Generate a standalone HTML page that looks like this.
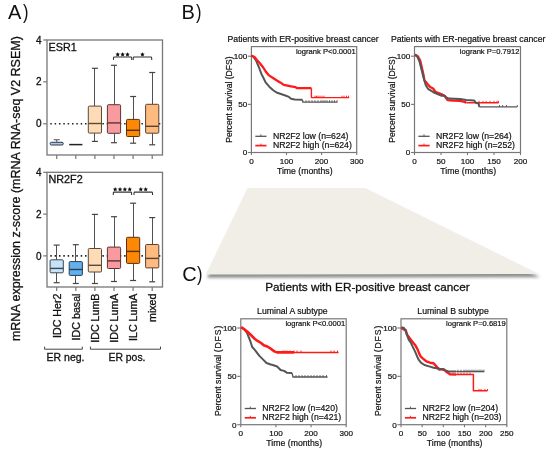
<!DOCTYPE html>
<html><head><meta charset="utf-8"><title>Figure</title>
<style>
html,body{margin:0;padding:0;background:#fff;}
body{width:550px;height:453px;overflow:hidden;}
svg{display:block;font-family:"Liberation Sans", sans-serif;will-change:transform;}
text.b{stroke:#111;stroke-width:0.3px;}
text.m{stroke:#111;stroke-width:0.2px;}
</style></head><body>
<svg width="550" height="453" viewBox="0 0 550 453">
<rect width="550" height="453" fill="#fff"/>
<text class="n" x="8" y="18.7" font-size="20" text-anchor="start" fill="#111" >A</text>
<text class="n" transform="translate(23.0,18.7) scale(0.82,1)" font-size="20" fill="#111">)</text>
<text class="b" transform="translate(19.8,188.6) rotate(-90)" font-size="12.5" text-anchor="middle" fill="#111">mRNA expression z-score (mRNA RNA-seq V2 RSEM)</text>
<rect x="47.0" y="40.0" width="115.5" height="115.0" fill="none" stroke="#777777" stroke-width="1.3"/>
<line x1="43.2" y1="40.0" x2="47.0" y2="40.0" stroke="#777777" stroke-width="1.2" />
<text class="b" x="41.6" y="43.6" font-size="10" text-anchor="end" fill="#111" >4</text>
<line x1="43.2" y1="81.8" x2="47.0" y2="81.8" stroke="#777777" stroke-width="1.2" />
<text class="b" x="41.6" y="85.39999999999999" font-size="10" text-anchor="end" fill="#111" >2</text>
<line x1="43.2" y1="123.8" x2="47.0" y2="123.8" stroke="#777777" stroke-width="1.2" />
<text class="b" x="41.6" y="127.39999999999999" font-size="10" text-anchor="end" fill="#111" >0</text>
<line x1="56.7" y1="155.0" x2="56.7" y2="159.0" stroke="#777777" stroke-width="1.2" />
<line x1="75.80000000000001" y1="155.0" x2="75.80000000000001" y2="159.0" stroke="#777777" stroke-width="1.2" />
<line x1="94.9" y1="155.0" x2="94.9" y2="159.0" stroke="#777777" stroke-width="1.2" />
<line x1="114.0" y1="155.0" x2="114.0" y2="159.0" stroke="#777777" stroke-width="1.2" />
<line x1="133.10000000000002" y1="155.0" x2="133.10000000000002" y2="159.0" stroke="#777777" stroke-width="1.2" />
<line x1="152.2" y1="155.0" x2="152.2" y2="159.0" stroke="#777777" stroke-width="1.2" />
<line x1="50.3" y1="123.8" x2="161.5" y2="123.8" stroke="#222" stroke-width="1.6" stroke-dasharray="1.5 2.84"/>
<text class="b" x="48.5" y="50.6" font-size="10.8" text-anchor="start" fill="#111" >ESR1</text>
<line x1="56.7" y1="139.7" x2="56.7" y2="142.3" stroke="#6a6a6a" stroke-width="1.1" />
<line x1="53.7" y1="139.7" x2="59.7" y2="139.7" stroke="#6a6a6a" stroke-width="1.2" />
<rect x="50.10" y="142.3" width="13.2" height="2.7" rx="1.3" fill="#a9cbea" stroke="#2e3a48" stroke-width="1"/>
<line x1="69.20000000000002" y1="144.6" x2="82.4" y2="144.6" stroke="#222" stroke-width="1.5" />
<line x1="94.5" y1="68.3" x2="94.5" y2="106.1" stroke="#505050" stroke-width="1.0" />
<line x1="94.5" y1="133.1" x2="94.5" y2="141.4" stroke="#505050" stroke-width="1.0" />
<line x1="91.9" y1="68.3" x2="97.9" y2="68.3" stroke="#444" stroke-width="1.2" />
<line x1="91.9" y1="141.4" x2="97.9" y2="141.4" stroke="#444" stroke-width="1.2" />
<rect x="88.30" y="106.1" width="13.2" height="27.00" rx="1" fill="#fddbb6" stroke="#5a4a3a" stroke-width="1"/>
<line x1="88.30000000000001" y1="123.5" x2="101.5" y2="123.5" stroke="#5a4a3a" stroke-width="1.4" />
<line x1="114.5" y1="65.3" x2="114.5" y2="104.7" stroke="#505050" stroke-width="1.0" />
<line x1="114.5" y1="133.3" x2="114.5" y2="142.7" stroke="#505050" stroke-width="1.0" />
<line x1="111.0" y1="65.3" x2="117.0" y2="65.3" stroke="#444" stroke-width="1.2" />
<line x1="111.0" y1="142.7" x2="117.0" y2="142.7" stroke="#444" stroke-width="1.2" />
<rect x="107.40" y="104.7" width="13.2" height="28.60" rx="1" fill="#f99b9e" stroke="#5a3434" stroke-width="1"/>
<line x1="107.4" y1="122.9" x2="120.6" y2="122.9" stroke="#5a3434" stroke-width="1.4" />
<line x1="133.5" y1="96.5" x2="133.5" y2="119.4" stroke="#505050" stroke-width="1.0" />
<line x1="133.5" y1="136.5" x2="133.5" y2="143.2" stroke="#505050" stroke-width="1.0" />
<line x1="130.10000000000002" y1="96.5" x2="136.10000000000002" y2="96.5" stroke="#444" stroke-width="1.2" />
<line x1="130.10000000000002" y1="143.2" x2="136.10000000000002" y2="143.2" stroke="#444" stroke-width="1.2" />
<rect x="126.50" y="119.4" width="13.2" height="17.10" rx="1" fill="#fc8805" stroke="#5a3010" stroke-width="1"/>
<line x1="126.50000000000003" y1="130.3" x2="139.70000000000002" y2="130.3" stroke="#5a3010" stroke-width="1.4" />
<line x1="152.5" y1="72.5" x2="152.5" y2="104.3" stroke="#505050" stroke-width="1.0" />
<line x1="152.5" y1="133.2" x2="152.5" y2="144.8" stroke="#505050" stroke-width="1.0" />
<line x1="149.2" y1="72.5" x2="155.2" y2="72.5" stroke="#444" stroke-width="1.2" />
<line x1="149.2" y1="144.8" x2="155.2" y2="144.8" stroke="#444" stroke-width="1.2" />
<rect x="145.60" y="104.3" width="13.2" height="28.90" rx="1" fill="#fdbb80" stroke="#5a4030" stroke-width="1"/>
<line x1="145.6" y1="126.3" x2="158.79999999999998" y2="126.3" stroke="#5a4030" stroke-width="1.4" />
<path d="M113.5,59.9 L113.5,57.9 Q113.5,57.0 114.4,57.0 L130.79999999999998,57.0 Q131.7,57.0 131.7,57.9 L131.7,59.9" fill="none" stroke="#333" stroke-width="1.05"/>
<polygon points="117.70,52.15 118.39,53.55 119.93,53.77 118.82,54.86 119.08,56.40 117.70,55.67 116.32,56.40 116.58,54.86 115.47,53.77 117.01,53.55" fill="#111"/>
<polygon points="122.60,52.15 123.29,53.55 124.83,53.77 123.72,54.86 123.98,56.40 122.60,55.67 121.22,56.40 121.48,54.86 120.37,53.77 121.91,53.55" fill="#111"/>
<polygon points="127.50,52.15 128.19,53.55 129.73,53.77 128.62,54.86 128.88,56.40 127.50,55.67 126.12,56.40 126.38,54.86 125.27,53.77 126.81,53.55" fill="#111"/>
<path d="M133.2,59.9 L133.2,57.9 Q133.2,57.0 134.1,57.0 L150.79999999999998,57.0 Q151.7,57.0 151.7,57.9 L151.7,59.9" fill="none" stroke="#333" stroke-width="1.05"/>
<polygon points="142.45,52.15 143.14,53.55 144.68,53.77 143.57,54.86 143.83,56.40 142.45,55.67 141.07,56.40 141.33,54.86 140.22,53.77 141.76,53.55" fill="#111"/>
<rect x="47.0" y="172.3" width="115.5" height="114.69999999999999" fill="none" stroke="#777777" stroke-width="1.3"/>
<line x1="43.2" y1="172.3" x2="47.0" y2="172.3" stroke="#777777" stroke-width="1.2" />
<text class="b" x="41.6" y="175.9" font-size="10" text-anchor="end" fill="#111" >4</text>
<line x1="43.2" y1="214.1" x2="47.0" y2="214.1" stroke="#777777" stroke-width="1.2" />
<text class="b" x="41.6" y="217.7" font-size="10" text-anchor="end" fill="#111" >2</text>
<line x1="43.2" y1="255.9" x2="47.0" y2="255.9" stroke="#777777" stroke-width="1.2" />
<text class="b" x="41.6" y="259.5" font-size="10" text-anchor="end" fill="#111" >0</text>
<line x1="56.7" y1="287.0" x2="56.7" y2="291.0" stroke="#777777" stroke-width="1.2" />
<line x1="75.80000000000001" y1="287.0" x2="75.80000000000001" y2="291.0" stroke="#777777" stroke-width="1.2" />
<line x1="94.9" y1="287.0" x2="94.9" y2="291.0" stroke="#777777" stroke-width="1.2" />
<line x1="114.0" y1="287.0" x2="114.0" y2="291.0" stroke="#777777" stroke-width="1.2" />
<line x1="133.10000000000002" y1="287.0" x2="133.10000000000002" y2="291.0" stroke="#777777" stroke-width="1.2" />
<line x1="152.2" y1="287.0" x2="152.2" y2="291.0" stroke="#777777" stroke-width="1.2" />
<line x1="50.3" y1="255.9" x2="161.5" y2="255.9" stroke="#222" stroke-width="1.6" stroke-dasharray="1.5 2.84"/>
<text class="b" x="48.5" y="182.5" font-size="10.8" text-anchor="start" fill="#111" >NR2F2</text>
<line x1="56.5" y1="245.1" x2="56.5" y2="259.8" stroke="#505050" stroke-width="1.0" />
<line x1="56.5" y1="272.8" x2="56.5" y2="282.7" stroke="#505050" stroke-width="1.0" />
<line x1="53.7" y1="245.1" x2="59.7" y2="245.1" stroke="#444" stroke-width="1.2" />
<line x1="53.7" y1="282.7" x2="59.7" y2="282.7" stroke="#444" stroke-width="1.2" />
<rect x="50.10" y="259.8" width="13.2" height="13.00" rx="1" fill="#c7e3f8" stroke="#3c4650" stroke-width="1"/>
<line x1="50.1" y1="268.4" x2="63.300000000000004" y2="268.4" stroke="#3c4650" stroke-width="1.4" />
<line x1="75.5" y1="244.7" x2="75.5" y2="261.6" stroke="#505050" stroke-width="1.0" />
<line x1="75.5" y1="275.4" x2="75.5" y2="283.5" stroke="#505050" stroke-width="1.0" />
<line x1="72.80000000000001" y1="244.7" x2="78.80000000000001" y2="244.7" stroke="#444" stroke-width="1.2" />
<line x1="72.80000000000001" y1="283.5" x2="78.80000000000001" y2="283.5" stroke="#444" stroke-width="1.2" />
<rect x="69.20" y="261.6" width="13.2" height="13.80" rx="1" fill="#62b0ee" stroke="#2d3e50" stroke-width="1"/>
<line x1="69.20000000000002" y1="269.5" x2="82.4" y2="269.5" stroke="#2d3e50" stroke-width="1.4" />
<line x1="94.5" y1="214.4" x2="94.5" y2="248.5" stroke="#505050" stroke-width="1.0" />
<line x1="94.5" y1="272.0" x2="94.5" y2="283.5" stroke="#505050" stroke-width="1.0" />
<line x1="91.9" y1="214.4" x2="97.9" y2="214.4" stroke="#444" stroke-width="1.2" />
<line x1="91.9" y1="283.5" x2="97.9" y2="283.5" stroke="#444" stroke-width="1.2" />
<rect x="88.30" y="248.5" width="13.2" height="23.50" rx="1" fill="#fddbb6" stroke="#5a4a3a" stroke-width="1"/>
<line x1="88.30000000000001" y1="265.3" x2="101.5" y2="265.3" stroke="#5a4a3a" stroke-width="1.4" />
<line x1="114.5" y1="216.7" x2="114.5" y2="247.1" stroke="#505050" stroke-width="1.0" />
<line x1="114.5" y1="268.5" x2="114.5" y2="281.5" stroke="#505050" stroke-width="1.0" />
<line x1="111.0" y1="216.7" x2="117.0" y2="216.7" stroke="#444" stroke-width="1.2" />
<line x1="111.0" y1="281.5" x2="117.0" y2="281.5" stroke="#444" stroke-width="1.2" />
<rect x="107.40" y="247.1" width="13.2" height="21.40" rx="1" fill="#f99b9e" stroke="#5a3434" stroke-width="1"/>
<line x1="107.4" y1="260.9" x2="120.6" y2="260.9" stroke="#5a3434" stroke-width="1.4" />
<line x1="133.5" y1="203.2" x2="133.5" y2="237.3" stroke="#505050" stroke-width="1.0" />
<line x1="133.5" y1="263.4" x2="133.5" y2="280.5" stroke="#505050" stroke-width="1.0" />
<line x1="130.10000000000002" y1="203.2" x2="136.10000000000002" y2="203.2" stroke="#444" stroke-width="1.2" />
<line x1="130.10000000000002" y1="280.5" x2="136.10000000000002" y2="280.5" stroke="#444" stroke-width="1.2" />
<rect x="126.50" y="237.3" width="13.2" height="26.10" rx="1" fill="#fc8805" stroke="#5a3010" stroke-width="1"/>
<line x1="126.50000000000003" y1="251.4" x2="139.70000000000002" y2="251.4" stroke="#5a3010" stroke-width="1.4" />
<line x1="152.5" y1="217.6" x2="152.5" y2="244.5" stroke="#505050" stroke-width="1.0" />
<line x1="152.5" y1="267.9" x2="152.5" y2="281.8" stroke="#505050" stroke-width="1.0" />
<line x1="149.2" y1="217.6" x2="155.2" y2="217.6" stroke="#444" stroke-width="1.2" />
<line x1="149.2" y1="281.8" x2="155.2" y2="281.8" stroke="#444" stroke-width="1.2" />
<rect x="145.60" y="244.5" width="13.2" height="23.40" rx="1" fill="#fdbb80" stroke="#5a4030" stroke-width="1"/>
<line x1="145.6" y1="258.4" x2="158.79999999999998" y2="258.4" stroke="#5a4030" stroke-width="1.4" />
<path d="M113.3,195.0 L113.3,193.0 Q113.3,192.1 114.2,192.1 L130.7,192.1 Q131.6,192.1 131.6,193.0 L131.6,195.0" fill="none" stroke="#333" stroke-width="1.05"/>
<polygon points="115.17,187.05 115.87,188.45 117.41,188.67 116.29,189.76 116.56,191.30 115.17,190.58 113.79,191.30 114.06,189.76 112.94,188.67 114.48,188.45" fill="#111"/>
<polygon points="120.02,187.05 120.72,188.45 122.26,188.67 121.14,189.76 121.41,191.30 120.02,190.58 118.64,191.30 118.91,189.76 117.79,188.67 119.33,188.45" fill="#111"/>
<polygon points="124.87,187.05 125.57,188.45 127.11,188.67 125.99,189.76 126.26,191.30 124.87,190.58 123.49,191.30 123.76,189.76 122.64,188.67 124.18,188.45" fill="#111"/>
<polygon points="129.72,187.05 130.42,188.45 131.96,188.67 130.84,189.76 131.11,191.30 129.72,190.58 128.34,191.30 128.61,189.76 127.49,188.67 129.03,188.45" fill="#111"/>
<path d="M134.0,195.0 L134.0,193.0 Q134.0,192.1 134.9,192.1 L151.6,192.1 Q152.5,192.1 152.5,193.0 L152.5,195.0" fill="none" stroke="#333" stroke-width="1.05"/>
<polygon points="140.82,187.05 141.52,188.45 143.06,188.67 141.94,189.76 142.21,191.30 140.82,190.58 139.44,191.30 139.71,189.76 138.59,188.67 140.13,188.45" fill="#111"/>
<polygon points="145.68,187.05 146.37,188.45 147.91,188.67 146.79,189.76 147.06,191.30 145.68,190.58 144.29,191.30 144.56,189.76 143.44,188.67 144.98,188.45" fill="#111"/>
<text class="b" transform="translate(60.6,293.5) rotate(-90)" font-size="10.7" text-anchor="end" fill="#111">IDC Her2</text>
<text class="b" transform="translate(79.70000000000002,293.5) rotate(-90)" font-size="10.7" text-anchor="end" fill="#111">IDC basal</text>
<text class="b" transform="translate(98.80000000000001,293.5) rotate(-90)" font-size="10.7" text-anchor="end" fill="#111">IDC LumB</text>
<text class="b" transform="translate(117.9,293.5) rotate(-90)" font-size="10.7" text-anchor="end" fill="#111">IDC LumA</text>
<text class="b" transform="translate(137.00000000000003,293.5) rotate(-90)" font-size="10.7" text-anchor="end" fill="#111">ILC LumA</text>
<text class="b" transform="translate(156.1,293.5) rotate(-90)" font-size="10.7" text-anchor="end" fill="#111">mixed</text>
<path d="M44.6,346.6 L44.6,349.2 L82.3,349.2 L82.3,346.6" fill="none" stroke="#444" stroke-width="1"/>
<path d="M90.4,346.6 L90.4,349.2 L160.5,349.2 L160.5,346.6" fill="none" stroke="#444" stroke-width="1"/>
<text class="b" x="46.6" y="360.5" font-size="10.5" text-anchor="start" fill="#111" >ER neg.</text>
<text class="b" x="108.5" y="360.5" font-size="10.4" text-anchor="start" fill="#111" >ER pos.</text>
<text class="n" x="181.6" y="18.6" font-size="20" text-anchor="start" fill="#111" >B</text>
<text class="n" transform="translate(195.9,18.6) scale(0.82,1)" font-size="20" fill="#111">)</text>
<rect x="251.4" y="46.6" width="105.30" height="105.90" fill="none" stroke="#777777" stroke-width="1.2"/>
<line x1="247.8" y1="152.5" x2="251.4" y2="152.5" stroke="#777777" stroke-width="1.1" />
<text class="m" x="247.20000000000002" y="155.4" font-size="8.1" text-anchor="end" fill="#111" >0</text>
<line x1="247.8" y1="104.35" x2="251.4" y2="104.35" stroke="#777777" stroke-width="1.1" />
<text class="m" x="247.20000000000002" y="107.25" font-size="8.1" text-anchor="end" fill="#111" >50</text>
<line x1="247.8" y1="56.2" x2="251.4" y2="56.2" stroke="#777777" stroke-width="1.1" />
<text class="m" x="247.20000000000002" y="59.1" font-size="8.1" text-anchor="end" fill="#111" >100</text>
<line x1="251.4" y1="152.5" x2="251.4" y2="155.1" stroke="#777777" stroke-width="1.1" />
<text class="m" x="251.4" y="163.8" font-size="8.1" text-anchor="middle" fill="#111" >0</text>
<line x1="286.5" y1="152.5" x2="286.5" y2="155.1" stroke="#777777" stroke-width="1.1" />
<text class="m" x="286.5" y="163.8" font-size="8.1" text-anchor="middle" fill="#111" >100</text>
<line x1="321.6" y1="152.5" x2="321.6" y2="155.1" stroke="#777777" stroke-width="1.1" />
<text class="m" x="321.6" y="163.8" font-size="8.1" text-anchor="middle" fill="#111" >200</text>
<line x1="356.7" y1="152.5" x2="356.7" y2="155.1" stroke="#777777" stroke-width="1.1" />
<text class="m" x="356.7" y="163.8" font-size="8.1" text-anchor="middle" fill="#111" >300</text>
<text class="m" x="304.75" y="173.8" font-size="8.7" text-anchor="middle" fill="#111" >Time (months)</text>
<text class="m" transform="translate(232.20000000000002,99.55) rotate(-90)" font-size="8.6" text-anchor="middle" fill="#111">Percent survival (DFS)</text>
<text class="m" x="227.5" y="41.9" font-size="8.7" text-anchor="start" fill="#111" >Patients with ER-positive breast cancer</text>
<text class="m" x="355.7" y="53.800000000000004" font-size="7.6" text-anchor="end" fill="#111" >logrank P&lt;0.0001</text>
<path d="M251.3,55.5 L253.5,56.9 L256.2,60.8 L258.8,67.0 L261.5,74.1 L263.5,78.0 L265.6,82.4 L269.3,86.7 L272.9,90.0 L276.5,92.5 L280.9,94.0 L285.3,95.5 L288.9,96.9 L291.1,98.7 L294.7,99.5 L302.5,99.8" fill="none" stroke="#555555" stroke-width="2.0" stroke-linejoin="round"/>
<path d="M302.5,99.8 L302.8,102.1 L337.5,102.1" fill="none" stroke="#555555" stroke-width="1.3" stroke-linejoin="round"/>
<line x1="306" y1="100.19999999999999" x2="306" y2="102.1" stroke="#555555" stroke-width="0.9" />
<line x1="309" y1="100.19999999999999" x2="309" y2="102.1" stroke="#555555" stroke-width="0.9" />
<line x1="312" y1="100.19999999999999" x2="312" y2="102.1" stroke="#555555" stroke-width="0.9" />
<line x1="315" y1="100.19999999999999" x2="315" y2="102.1" stroke="#555555" stroke-width="0.9" />
<line x1="318" y1="100.19999999999999" x2="318" y2="102.1" stroke="#555555" stroke-width="0.9" />
<line x1="321" y1="100.19999999999999" x2="321" y2="102.1" stroke="#555555" stroke-width="0.9" />
<line x1="323" y1="100.19999999999999" x2="323" y2="102.1" stroke="#555555" stroke-width="0.9" />
<line x1="325" y1="100.19999999999999" x2="325" y2="102.1" stroke="#555555" stroke-width="0.9" />
<line x1="327" y1="100.19999999999999" x2="327" y2="102.1" stroke="#555555" stroke-width="0.9" />
<line x1="329.5" y1="100.19999999999999" x2="329.5" y2="102.1" stroke="#555555" stroke-width="0.9" />
<line x1="332" y1="100.19999999999999" x2="332" y2="102.1" stroke="#555555" stroke-width="0.9" />
<line x1="334.5" y1="100.19999999999999" x2="334.5" y2="102.1" stroke="#555555" stroke-width="0.9" />
<line x1="337" y1="100.19999999999999" x2="337" y2="102.1" stroke="#555555" stroke-width="0.9" />
<path d="M251.3,55.5 L254.9,57.3 L257.1,60.4 L259.7,63.0 L263.2,67.5 L266.3,72.3 L269.0,75.4 L273.0,78.0 L276.5,80.2 L280.2,82.4 L283.8,84.9 L287.5,85.6 L291.1,86.4 L295.5,87.1 L296.9,88.2 L311.4,88.2" fill="none" stroke="#ff1a1a" stroke-width="2.3" stroke-linejoin="round"/>
<path d="M311.4,88.2 L311.4,97.6 L349.2,97.6" fill="none" stroke="#ff1a1a" stroke-width="1.4" stroke-linejoin="round"/>
<line x1="315" y1="95.69999999999999" x2="315" y2="97.6" stroke="#ff1a1a" stroke-width="0.9" />
<line x1="316.5" y1="95.69999999999999" x2="316.5" y2="97.6" stroke="#ff1a1a" stroke-width="0.9" />
<line x1="318" y1="95.69999999999999" x2="318" y2="97.6" stroke="#ff1a1a" stroke-width="0.9" />
<line x1="320" y1="95.69999999999999" x2="320" y2="97.6" stroke="#ff1a1a" stroke-width="0.9" />
<line x1="322" y1="95.69999999999999" x2="322" y2="97.6" stroke="#ff1a1a" stroke-width="0.9" />
<line x1="324" y1="95.69999999999999" x2="324" y2="97.6" stroke="#ff1a1a" stroke-width="0.9" />
<line x1="342" y1="95.69999999999999" x2="342" y2="97.6" stroke="#ff1a1a" stroke-width="0.9" />
<line x1="344" y1="95.69999999999999" x2="344" y2="97.6" stroke="#ff1a1a" stroke-width="0.9" />
<line x1="346.5" y1="95.69999999999999" x2="346.5" y2="97.6" stroke="#ff1a1a" stroke-width="0.9" />
<line x1="348.5" y1="95.69999999999999" x2="348.5" y2="97.6" stroke="#ff1a1a" stroke-width="0.9" />
<line x1="255.3" y1="136.3" x2="266.5" y2="136.3" stroke="#555555" stroke-width="1.3" />
<line x1="260.90000000000003" y1="134.3" x2="260.90000000000003" y2="136.3" stroke="#555555" stroke-width="0.9" />
<line x1="255.3" y1="145.6" x2="266.5" y2="145.6" stroke="#ff1a1a" stroke-width="1.7" />
<line x1="260.90000000000003" y1="143.6" x2="260.90000000000003" y2="145.6" stroke="#ff1a1a" stroke-width="0.9" />
<text class="m" x="272.9" y="138.8" font-size="8.7" text-anchor="start" fill="#111" >NR2F2 low (n=624)</text>
<text class="m" x="272.9" y="148.2" font-size="8.7" text-anchor="start" fill="#111" >NR2F2 high (n=624)</text>
<rect x="414.5" y="46.6" width="106.00" height="105.90" fill="none" stroke="#777777" stroke-width="1.2"/>
<line x1="410.9" y1="152.5" x2="414.5" y2="152.5" stroke="#777777" stroke-width="1.1" />
<text class="m" x="410.3" y="155.4" font-size="8.1" text-anchor="end" fill="#111" >0</text>
<line x1="410.9" y1="104.35" x2="414.5" y2="104.35" stroke="#777777" stroke-width="1.1" />
<text class="m" x="410.3" y="107.25" font-size="8.1" text-anchor="end" fill="#111" >50</text>
<line x1="410.9" y1="56.2" x2="414.5" y2="56.2" stroke="#777777" stroke-width="1.1" />
<text class="m" x="410.3" y="59.1" font-size="8.1" text-anchor="end" fill="#111" >100</text>
<line x1="414.5" y1="152.5" x2="414.5" y2="155.1" stroke="#777777" stroke-width="1.1" />
<text class="m" x="414.5" y="163.8" font-size="8.1" text-anchor="middle" fill="#111" >0</text>
<line x1="441.0" y1="152.5" x2="441.0" y2="155.1" stroke="#777777" stroke-width="1.1" />
<text class="m" x="441.0" y="163.8" font-size="8.1" text-anchor="middle" fill="#111" >50</text>
<line x1="467.5" y1="152.5" x2="467.5" y2="155.1" stroke="#777777" stroke-width="1.1" />
<text class="m" x="467.5" y="163.8" font-size="8.1" text-anchor="middle" fill="#111" >100</text>
<line x1="494.0" y1="152.5" x2="494.0" y2="155.1" stroke="#777777" stroke-width="1.1" />
<text class="m" x="494.0" y="163.8" font-size="8.1" text-anchor="middle" fill="#111" >150</text>
<line x1="520.5" y1="152.5" x2="520.5" y2="155.1" stroke="#777777" stroke-width="1.1" />
<text class="m" x="520.5" y="163.8" font-size="8.1" text-anchor="middle" fill="#111" >200</text>
<text class="m" x="468.2" y="173.8" font-size="8.7" text-anchor="middle" fill="#111" >Time (months)</text>
<text class="m" transform="translate(395.3,99.55) rotate(-90)" font-size="8.6" text-anchor="middle" fill="#111">Percent survival (DFS)</text>
<text class="m" x="390.9" y="41.9" font-size="8.7" text-anchor="start" fill="#111" >Patients with ER-negative breast cancer</text>
<text class="m" x="519.5" y="53.800000000000004" font-size="7.6" text-anchor="end" fill="#111" >logrank P=0.7912</text>
<path d="M415.0,54.5 L418.0,56.5 L420.2,60.5 L421.6,66.5 L423.2,73.5 L424.4,80.1 L427.3,83.7 L430.2,87.0 L433.1,88.5 L435.3,91.7 L441.8,94.3 L444.7,96.1 L447.6,100.1 L452.7,100.5 L460.0,100.9 L464.7,101.9 L466.3,102.7" fill="none" stroke="#ff1a1a" stroke-width="2.3" stroke-linejoin="round"/>
<path d="M466.3,102.7 L498.7,102.7" fill="none" stroke="#ff1a1a" stroke-width="1.5" stroke-linejoin="round"/>
<line x1="479" y1="100.8" x2="479" y2="102.7" stroke="#ff1a1a" stroke-width="0.9" />
<line x1="483" y1="100.8" x2="483" y2="102.7" stroke="#ff1a1a" stroke-width="0.9" />
<line x1="486" y1="100.8" x2="486" y2="102.7" stroke="#ff1a1a" stroke-width="0.9" />
<line x1="490" y1="100.8" x2="490" y2="102.7" stroke="#ff1a1a" stroke-width="0.9" />
<line x1="494" y1="100.8" x2="494" y2="102.7" stroke="#ff1a1a" stroke-width="0.9" />
<line x1="497" y1="100.8" x2="497" y2="102.7" stroke="#ff1a1a" stroke-width="0.9" />
<line x1="498.5" y1="100.8" x2="498.5" y2="102.7" stroke="#ff1a1a" stroke-width="0.9" />
<path d="M415.0,54.8 L417.5,57.0 L419.5,61.5 L421.0,67.5 L422.9,75.0 L424.4,80.8 L425.8,85.2 L428.0,88.8 L430.9,90.6 L434.5,92.8 L438.2,94.3 L441.1,95.7 L444.7,95.7 L446.2,97.5 L449.1,98.6 L460.1,99.1 L466.3,100.0 L474.0,100.4 L476.3,103.1 L478.6,103.5 L479.4,106.9" fill="none" stroke="#555555" stroke-width="2.0" stroke-linejoin="round"/>
<path d="M479.4,106.9 L517.3,106.9" fill="none" stroke="#555555" stroke-width="1.3" stroke-linejoin="round"/>
<line x1="499.5" y1="105.0" x2="499.5" y2="106.9" stroke="#555555" stroke-width="0.9" />
<line x1="502.6" y1="105.0" x2="502.6" y2="106.9" stroke="#555555" stroke-width="0.9" />
<line x1="506.5" y1="105.0" x2="506.5" y2="106.9" stroke="#555555" stroke-width="0.9" />
<line x1="517.3" y1="105.0" x2="517.3" y2="106.9" stroke="#555555" stroke-width="0.9" />
<line x1="418.4" y1="136.3" x2="429.59999999999997" y2="136.3" stroke="#555555" stroke-width="1.3" />
<line x1="424.0" y1="134.3" x2="424.0" y2="136.3" stroke="#555555" stroke-width="0.9" />
<line x1="418.4" y1="145.6" x2="429.59999999999997" y2="145.6" stroke="#ff1a1a" stroke-width="1.7" />
<line x1="424.0" y1="143.6" x2="424.0" y2="145.6" stroke="#ff1a1a" stroke-width="0.9" />
<text class="m" x="436.0" y="138.8" font-size="8.7" text-anchor="start" fill="#111" >NR2F2 low (n=264)</text>
<text class="m" x="436.0" y="148.2" font-size="8.7" text-anchor="start" fill="#111" >NR2F2 high (n=252)</text>
<text class="n" x="182.3" y="280.6" font-size="20" text-anchor="start" fill="#111" >C</text>
<text class="n" transform="translate(197.0,280.6) scale(0.82,1)" font-size="20" fill="#111">)</text>
<defs><filter id="sh" x="-10%" y="-10%" width="120%" height="130%"><feGaussianBlur stdDeviation="1.4"/></filter></defs>
<polygon points="249,191 366,191 540,277.2 207,277.8" fill="#8e8e8e" filter="url(#sh)"/>
<polygon points="247.6,188 364.5,188 538.5,274.0 206,274.6" fill="#f0eee6"/>
<text class="b" x="265.2" y="291.2" font-size="11.75" text-anchor="start" fill="#111" >Patients with ER-positive breast cancer</text>
<rect x="240.8" y="318.8" width="105.40" height="105.90" fill="none" stroke="#777777" stroke-width="1.2"/>
<line x1="237.20000000000002" y1="424.7" x2="240.8" y2="424.7" stroke="#777777" stroke-width="1.1" />
<text class="m" x="236.60000000000002" y="427.59999999999997" font-size="8.1" text-anchor="end" fill="#111" >0</text>
<line x1="237.20000000000002" y1="376.35" x2="240.8" y2="376.35" stroke="#777777" stroke-width="1.1" />
<text class="m" x="236.60000000000002" y="379.25" font-size="8.1" text-anchor="end" fill="#111" >50</text>
<line x1="237.20000000000002" y1="328.0" x2="240.8" y2="328.0" stroke="#777777" stroke-width="1.1" />
<text class="m" x="236.60000000000002" y="330.9" font-size="8.1" text-anchor="end" fill="#111" >100</text>
<line x1="240.8" y1="424.7" x2="240.8" y2="427.3" stroke="#777777" stroke-width="1.1" />
<text class="m" x="240.8" y="436.0" font-size="8.1" text-anchor="middle" fill="#111" >0</text>
<line x1="275.93333333333334" y1="424.7" x2="275.93333333333334" y2="427.3" stroke="#777777" stroke-width="1.1" />
<text class="m" x="275.93333333333334" y="436.0" font-size="8.1" text-anchor="middle" fill="#111" >100</text>
<line x1="311.06666666666666" y1="424.7" x2="311.06666666666666" y2="427.3" stroke="#777777" stroke-width="1.1" />
<text class="m" x="311.06666666666666" y="436.0" font-size="8.1" text-anchor="middle" fill="#111" >200</text>
<line x1="346.2" y1="424.7" x2="346.2" y2="427.3" stroke="#777777" stroke-width="1.1" />
<text class="m" x="346.2" y="436.0" font-size="8.1" text-anchor="middle" fill="#111" >300</text>
<text class="m" x="294.2" y="446.0" font-size="8.7" text-anchor="middle" fill="#111" >Time (months)</text>
<text class="m" transform="translate(220.60000000000002,415.9) rotate(-90)" font-size="8.6" fill="#111">Percent survival <tspan letter-spacing="0.95">(DFS)</tspan></text>
<text class="m" x="257.1" y="314.1" font-size="8.7" text-anchor="start" fill="#111" >Luminal A subtype</text>
<text class="m" x="345.2" y="326.0" font-size="7.6" text-anchor="end" fill="#111" >logrank P&lt;0.0001</text>
<path d="M241.2,327.5 L244.3,329.3 L247.0,332.8 L248.7,337.2 L250.5,341.7 L252.2,347.0 L255.0,350.1 L259.4,355.9 L262.9,359.4 L266.5,363.0 L270.0,364.3 L273.5,365.2 L277.1,366.5 L280.6,370.0 L284.1,370.9 L286.8,372.7 L292.1,373.1" fill="none" stroke="#555555" stroke-width="2.0" stroke-linejoin="round"/>
<path d="M292.1,373.1 L293.0,377.0 L327.5,377.0" fill="none" stroke="#555555" stroke-width="1.3" stroke-linejoin="round"/>
<line x1="296" y1="375.1" x2="296" y2="377.0" stroke="#555555" stroke-width="0.9" />
<line x1="299" y1="375.1" x2="299" y2="377.0" stroke="#555555" stroke-width="0.9" />
<line x1="302" y1="375.1" x2="302" y2="377.0" stroke="#555555" stroke-width="0.9" />
<line x1="305" y1="375.1" x2="305" y2="377.0" stroke="#555555" stroke-width="0.9" />
<line x1="308" y1="375.1" x2="308" y2="377.0" stroke="#555555" stroke-width="0.9" />
<line x1="311" y1="375.1" x2="311" y2="377.0" stroke="#555555" stroke-width="0.9" />
<line x1="314" y1="375.1" x2="314" y2="377.0" stroke="#555555" stroke-width="0.9" />
<line x1="317" y1="375.1" x2="317" y2="377.0" stroke="#555555" stroke-width="0.9" />
<line x1="320" y1="375.1" x2="320" y2="377.0" stroke="#555555" stroke-width="0.9" />
<line x1="323" y1="375.1" x2="323" y2="377.0" stroke="#555555" stroke-width="0.9" />
<line x1="326.5" y1="375.1" x2="326.5" y2="377.0" stroke="#555555" stroke-width="0.9" />
<path d="M241.2,327.1 L244.3,329.3 L247.8,332.0 L251.4,335.5 L254.9,339.0 L258.0,341.2 L261.1,343.0 L263.7,345.2 L267.3,346.5 L270.8,348.7 L274.3,351.4 L277.0,352.4 L294.0,352.4" fill="none" stroke="#ff1a1a" stroke-width="2.6" stroke-linejoin="round"/>
<path d="M294.0,352.4 L338.5,352.4" fill="none" stroke="#ff1a1a" stroke-width="1.5" stroke-linejoin="round"/>
<line x1="283" y1="350.5" x2="283" y2="352.4" stroke="#ff1a1a" stroke-width="0.9" />
<line x1="285" y1="350.5" x2="285" y2="352.4" stroke="#ff1a1a" stroke-width="0.9" />
<line x1="287" y1="350.5" x2="287" y2="352.4" stroke="#ff1a1a" stroke-width="0.9" />
<line x1="290" y1="350.5" x2="290" y2="352.4" stroke="#ff1a1a" stroke-width="0.9" />
<line x1="294" y1="350.5" x2="294" y2="352.4" stroke="#ff1a1a" stroke-width="0.9" />
<line x1="297" y1="350.5" x2="297" y2="352.4" stroke="#ff1a1a" stroke-width="0.9" />
<line x1="301" y1="350.5" x2="301" y2="352.4" stroke="#ff1a1a" stroke-width="0.9" />
<line x1="331" y1="350.5" x2="331" y2="352.4" stroke="#ff1a1a" stroke-width="0.9" />
<line x1="334" y1="350.5" x2="334" y2="352.4" stroke="#ff1a1a" stroke-width="0.9" />
<line x1="337.5" y1="350.5" x2="337.5" y2="352.4" stroke="#ff1a1a" stroke-width="0.9" />
<line x1="244.70000000000002" y1="408.5" x2="255.9" y2="408.5" stroke="#555555" stroke-width="1.3" />
<line x1="250.3" y1="406.5" x2="250.3" y2="408.5" stroke="#555555" stroke-width="0.9" />
<line x1="244.70000000000002" y1="417.8" x2="255.9" y2="417.8" stroke="#ff1a1a" stroke-width="1.7" />
<line x1="250.3" y1="415.8" x2="250.3" y2="417.8" stroke="#ff1a1a" stroke-width="0.9" />
<text class="m" x="262.3" y="411.0" font-size="8.7" text-anchor="start" fill="#111" >NR2F2 low (n=420)</text>
<text class="m" x="262.3" y="420.40000000000003" font-size="8.7" text-anchor="start" fill="#111" >NR2F2 high (n=421)</text>
<rect x="401.0" y="318.8" width="105.80" height="105.90" fill="none" stroke="#777777" stroke-width="1.2"/>
<line x1="397.4" y1="424.7" x2="401.0" y2="424.7" stroke="#777777" stroke-width="1.1" />
<text class="m" x="396.8" y="427.59999999999997" font-size="8.1" text-anchor="end" fill="#111" >0</text>
<line x1="397.4" y1="376.35" x2="401.0" y2="376.35" stroke="#777777" stroke-width="1.1" />
<text class="m" x="396.8" y="379.25" font-size="8.1" text-anchor="end" fill="#111" >50</text>
<line x1="397.4" y1="328.0" x2="401.0" y2="328.0" stroke="#777777" stroke-width="1.1" />
<text class="m" x="396.8" y="330.9" font-size="8.1" text-anchor="end" fill="#111" >100</text>
<line x1="401.0" y1="424.7" x2="401.0" y2="427.3" stroke="#777777" stroke-width="1.1" />
<text class="m" x="401.0" y="436.0" font-size="8.1" text-anchor="middle" fill="#111" >0</text>
<line x1="422.16" y1="424.7" x2="422.16" y2="427.3" stroke="#777777" stroke-width="1.1" />
<text class="m" x="422.16" y="436.0" font-size="8.1" text-anchor="middle" fill="#111" >50</text>
<line x1="443.32" y1="424.7" x2="443.32" y2="427.3" stroke="#777777" stroke-width="1.1" />
<text class="m" x="443.32" y="436.0" font-size="8.1" text-anchor="middle" fill="#111" >100</text>
<line x1="464.48" y1="424.7" x2="464.48" y2="427.3" stroke="#777777" stroke-width="1.1" />
<text class="m" x="464.48" y="436.0" font-size="8.1" text-anchor="middle" fill="#111" >150</text>
<line x1="485.64" y1="424.7" x2="485.64" y2="427.3" stroke="#777777" stroke-width="1.1" />
<text class="m" x="485.64" y="436.0" font-size="8.1" text-anchor="middle" fill="#111" >200</text>
<line x1="506.8" y1="424.7" x2="506.8" y2="427.3" stroke="#777777" stroke-width="1.1" />
<text class="m" x="506.8" y="436.0" font-size="8.1" text-anchor="middle" fill="#111" >250</text>
<text class="m" x="454.59999999999997" y="446.0" font-size="8.7" text-anchor="middle" fill="#111" >Time (months)</text>
<text class="m" transform="translate(380.8,415.9) rotate(-90)" font-size="8.6" fill="#111">Percent survival <tspan letter-spacing="0.95">(DFS)</tspan></text>
<text class="m" x="417.3" y="314.1" font-size="8.7" text-anchor="start" fill="#111" >Luminal B subtype</text>
<text class="m" x="505.8" y="326.0" font-size="7.6" text-anchor="end" fill="#111" >logrank P=0.6819</text>
<path d="M401.3,328.0 L403.5,329.3 L405.7,330.2 L407.1,334.6 L409.7,338.1 L412.4,341.7 L415.5,345.6 L417.7,349.6 L419.0,353.1 L420.8,356.7 L423.8,359.3 L426.4,361.4 L430.0,362.7 L433.6,363.2 L435.9,365.9 L439.1,369.5 L443.6,369.1 L446.4,371.8 L450.0,374.4 L456.0,374.5" fill="none" stroke="#ff1a1a" stroke-width="2.4" stroke-linejoin="round"/>
<path d="M456.0,374.5 L473.4,374.5 L473.4,390.8 L487.5,390.8" fill="none" stroke="#ff1a1a" stroke-width="1.5" stroke-linejoin="round"/>
<line x1="458" y1="372.6" x2="458" y2="374.5" stroke="#ff1a1a" stroke-width="0.9" />
<line x1="461" y1="372.6" x2="461" y2="374.5" stroke="#ff1a1a" stroke-width="0.9" />
<line x1="464" y1="372.6" x2="464" y2="374.5" stroke="#ff1a1a" stroke-width="0.9" />
<line x1="467" y1="372.6" x2="467" y2="374.5" stroke="#ff1a1a" stroke-width="0.9" />
<line x1="470" y1="372.6" x2="470" y2="374.5" stroke="#ff1a1a" stroke-width="0.9" />
<line x1="479" y1="388.90000000000003" x2="479" y2="390.8" stroke="#ff1a1a" stroke-width="0.9" />
<line x1="481" y1="388.90000000000003" x2="481" y2="390.8" stroke="#ff1a1a" stroke-width="0.9" />
<line x1="485" y1="388.90000000000003" x2="485" y2="390.8" stroke="#ff1a1a" stroke-width="0.9" />
<line x1="487.5" y1="388.90000000000003" x2="487.5" y2="390.8" stroke="#ff1a1a" stroke-width="0.9" />
<path d="M401.3,327.1 L404.0,328.0 L405.3,330.2 L407.1,335.5 L408.8,339.9 L411.0,343.0 L413.2,347.8 L415.0,351.4 L417.2,356.7 L419.0,360.2 L421.2,362.9 L424.5,365.0 L429.1,366.4 L433.6,367.7 L438.2,368.6 L442.7,369.5 L446.4,370.6 L449.1,371.6 L456.4,371.6" fill="none" stroke="#555555" stroke-width="2.0" stroke-linejoin="round"/>
<path d="M456.4,371.6 L484.2,371.6" fill="none" stroke="#555555" stroke-width="1.4" stroke-linejoin="round"/>
<line x1="458" y1="369.70000000000005" x2="458" y2="371.6" stroke="#555555" stroke-width="0.9" />
<line x1="461" y1="369.70000000000005" x2="461" y2="371.6" stroke="#555555" stroke-width="0.9" />
<line x1="464" y1="369.70000000000005" x2="464" y2="371.6" stroke="#555555" stroke-width="0.9" />
<line x1="466" y1="369.70000000000005" x2="466" y2="371.6" stroke="#555555" stroke-width="0.9" />
<line x1="468" y1="369.70000000000005" x2="468" y2="371.6" stroke="#555555" stroke-width="0.9" />
<line x1="470" y1="369.70000000000005" x2="470" y2="371.6" stroke="#555555" stroke-width="0.9" />
<line x1="472" y1="369.70000000000005" x2="472" y2="371.6" stroke="#555555" stroke-width="0.9" />
<line x1="474" y1="369.70000000000005" x2="474" y2="371.6" stroke="#555555" stroke-width="0.9" />
<line x1="476" y1="369.70000000000005" x2="476" y2="371.6" stroke="#555555" stroke-width="0.9" />
<line x1="478" y1="369.70000000000005" x2="478" y2="371.6" stroke="#555555" stroke-width="0.9" />
<line x1="480" y1="369.70000000000005" x2="480" y2="371.6" stroke="#555555" stroke-width="0.9" />
<line x1="482" y1="369.70000000000005" x2="482" y2="371.6" stroke="#555555" stroke-width="0.9" />
<line x1="484" y1="369.70000000000005" x2="484" y2="371.6" stroke="#555555" stroke-width="0.9" />
<line x1="404.9" y1="408.5" x2="416.09999999999997" y2="408.5" stroke="#555555" stroke-width="1.3" />
<line x1="410.5" y1="406.5" x2="410.5" y2="408.5" stroke="#555555" stroke-width="0.9" />
<line x1="404.9" y1="417.8" x2="416.09999999999997" y2="417.8" stroke="#ff1a1a" stroke-width="1.7" />
<line x1="410.5" y1="415.8" x2="410.5" y2="417.8" stroke="#ff1a1a" stroke-width="0.9" />
<text class="m" x="422.5" y="411.0" font-size="8.7" text-anchor="start" fill="#111" >NR2F2 low (n=204)</text>
<text class="m" x="422.5" y="420.40000000000003" font-size="8.7" text-anchor="start" fill="#111" >NR2F2 high (n=203)</text>
</svg>
</body></html>
